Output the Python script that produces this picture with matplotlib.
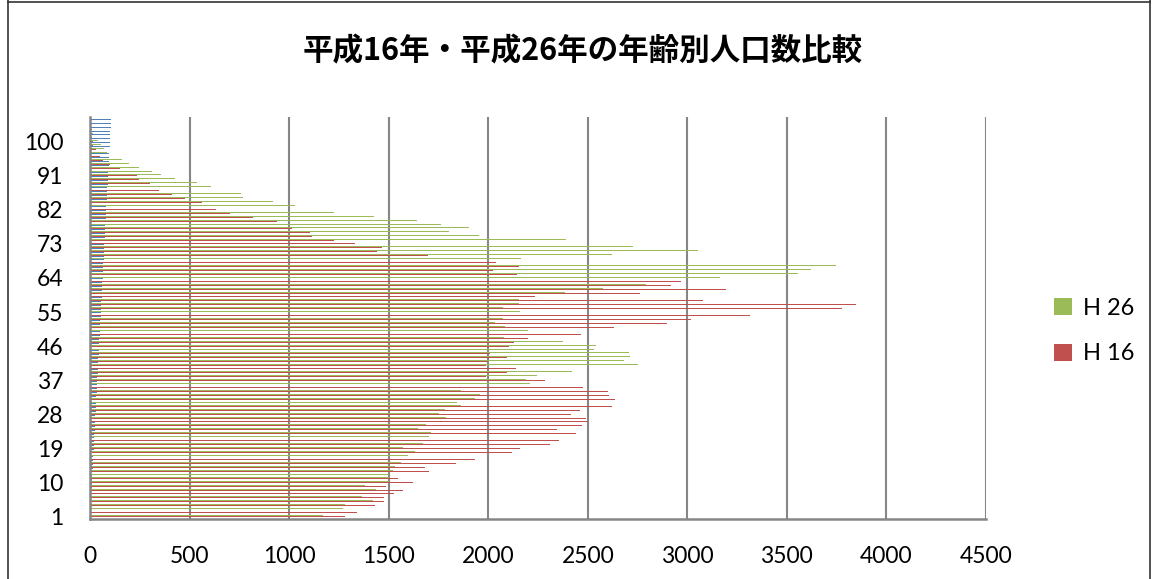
import matplotlib
matplotlib.use("Agg")
import matplotlib.pyplot as plt
from matplotlib.lines import Line2D
from matplotlib.patches import Patch

# ---- data (bottom category first) ----
ages = list(range(0, 106))                      # plotted (blue) series = age value
category_labels = [str(i) for i in range(1, 107)]  # Excel default category numbering
h26 = [1171, 1216, 1272, 1280, 1419, 1364, 1464, 1436, 1381, 1503,
       1503, 1501, 1523, 1531, 1561, 1570, 1598, 1632, 1570, 1673,
       1551, 1704, 1712, 1645, 1690, 1774, 1790, 1754, 1782, 1862,
       1844, 1936, 1958, 1862, 2128, 2209, 2192, 2245, 2420, 2594,
       2754, 2681, 2714, 2706, 2530, 2540, 2376, 2080, 2172, 2200,
       2083, 2033, 2075, 1991, 2162, 2075, 2154, 2154, 2390, 2385,
       2577, 2790, 2887, 3163, 3556, 3623, 3748, 2941, 2163, 2623,
       3055, 2726, 2741, 2393, 1953, 1802, 1903, 1762, 1642, 1427,
       1225, 1200, 1029, 917, 766, 758, 666, 607, 537, 427,
       356, 310, 244, 194, 160, 105, 84, 70, 55, 38,
       30, 15, 8, 5, 2, 3]
h16 = [1280, 1339, 1409, 1431, 1479, 1479, 1528, 1570, 1486, 1620,
       1545, 1690, 1702, 1682, 1837, 1933, 1953, 2117, 2159, 2309,
       2356, 2418, 2440, 2343, 2470, 2500, 2490, 2415, 2463, 2620,
       2699, 2637, 2607, 2600, 2476, 2426, 2287, 1991, 2092, 2138,
       1990, 1998, 2092, 2008, 2182, 2105, 2128, 2202, 2468, 2440,
       2634, 2900, 3020, 3313, 3648, 3779, 3849, 3079, 2234, 2761,
       3196, 2920, 2970, 2602, 2147, 2025, 2154, 2041, 1857, 1698,
       1442, 1469, 1330, 1225, 1115, 1104, 1017, 944, 937, 820,
       703, 633, 621, 562, 477, 410, 347, 340, 301, 244,
       236, 180, 150, 100, 64, 50, 45, 30, 15, 15,
       8, 5, 3, 2, 1, 0]
x_ticks = [0, 500, 1000, 1500, 2000, 2500, 3000, 3500, 4000, 4500]
label_step = 9
title = "平成16年・平成26年の年齢別人口数比較"

C_BLUE = "#4F81BD"
C_RED = "#C0504D"
C_GREEN = "#9BBB59"
GRID = "#868686"

W, H = 1158, 579
fig = plt.figure(figsize=(W / 100, H / 100), dpi=100)
fig.patch.set_facecolor("white")

ax = fig.add_axes([90 / W, 1 - 518.5 / H, (986 - 90) / W, (518.5 - 117) / H])

n = len(category_labels)
pos = list(range(n))
bh = 1 / 4.5
ax.barh([p - bh for p in pos], ages, height=bh, color=C_BLUE, linewidth=0)
ax.barh(pos, h16, height=bh, color=C_RED, linewidth=0)
ax.barh([p + bh for p in pos], h26, height=bh, color=C_GREEN, linewidth=0)

ax.set_xlim(x_ticks[0], x_ticks[-1])
ax.set_ylim(-0.5, n - 0.5)
ax.set_xticks(x_ticks)
ax.set_xticklabels([str(t) for t in x_ticks])
yt = pos[::label_step]
ax.set_yticks(yt)
ax.set_yticklabels([category_labels[i] for i in yt])

for t in x_ticks[1:]:
    ax.axvline(t, color=GRID, lw=1.5, zorder=0)
ax.set_axisbelow(True)

for s in ["top", "right"]:
    ax.spines[s].set_visible(False)
for s in ["left", "bottom"]:
    ax.spines[s].set_color(GRID)
    ax.spines[s].set_linewidth(1.8)
ax.spines["left"].set_zorder(5)

ax.tick_params(axis="both", length=0, labelsize=16.5, colors="black")
ax.tick_params(axis="y", pad=19)
ax.tick_params(axis="x", pad=20)
for lab in ax.get_xticklabels() + ax.get_yticklabels():
    lab.set_fontfamily("Lato")

fig.text(583 / W, 1 - 51 / H, title, ha="center", va="center",
         fontsize=22, fontweight="bold",
         family=["Noto Sans CJK JP", "DejaVu Sans"])

# legend
handles = [Patch(facecolor=C_GREEN, edgecolor="none"),
           Patch(facecolor=C_RED, edgecolor="none")]
leg = fig.legend(handles, ["H 26", "H 16"], loc="center left",
                 bbox_to_anchor=(1033 / W, 1 - 331 / H), frameon=False,
                 prop={"family": "Lato", "size": 17},
                 handlelength=0.75, handleheight=0.75, handletextpad=0.45,
                 labelspacing=1.05)

# chart border
for xs, ys in [([8, 8], [0, H]), ([1150, 1150], [0, H]), ([8, 1150], [1.5, 1.5])]:
    fig.add_artist(Line2D([x / W for x in xs], [1 - y / H for y in ys],
                          color="#333333", lw=1.2, transform=fig.transFigure))

fig.savefig("out.png", dpi=100, facecolor="white")
